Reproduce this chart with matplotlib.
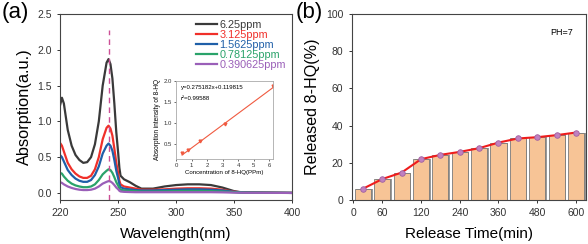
import numpy as np
import matplotlib
matplotlib.use("Agg")
import matplotlib.pyplot as plt

plt.rcParams['font.family'] = ['Liberation Sans', 'DejaVu Sans']

# ---- panel (a): UV-vis spectra ----
wl = [220, 221, 222, 224, 226, 228, 230, 232, 234, 236, 238, 240, 242, 244,
      245, 246, 247, 248, 249, 250, 251, 252, 255, 260, 265, 270, 280, 290,
      300, 310, 320, 330, 340, 345, 350, 355, 360, 380, 400]
a625 = [1.22, 1.33, 1.25, 0.88, 0.66, 0.53, 0.46, 0.42, 0.43, 0.50, 0.68, 1.00,
        1.50, 1.82, 1.87, 1.80, 1.60, 1.25, 0.85, 0.55, 0.35, 0.24, 0.19, 0.15,
        0.10, 0.06, 0.06, 0.09, 0.11, 0.12, 0.12, 0.11, 0.075, 0.05, 0.025,
        0.012, 0.008, 0.004, 0.0]
a3125 = [0.70, 0.66, 0.58, 0.42, 0.33, 0.27, 0.23, 0.21, 0.21, 0.24, 0.33, 0.50,
         0.75, 0.91, 0.94, 0.90, 0.80, 0.62, 0.42, 0.27, 0.17, 0.12, 0.09, 0.075,
         0.06, 0.045, 0.045, 0.05, 0.06, 0.065, 0.065, 0.06, 0.045, 0.03, 0.018,
         0.01, 0.006, 0.003, 0.0]
a15625 = [0.53, 0.50, 0.44, 0.32, 0.25, 0.20, 0.17, 0.155, 0.155, 0.18, 0.25, 0.37,
          0.55, 0.66, 0.69, 0.66, 0.59, 0.46, 0.31, 0.20, 0.12, 0.08, 0.06, 0.05,
          0.04, 0.035, 0.035, 0.04, 0.045, 0.05, 0.05, 0.045, 0.035, 0.025, 0.015,
          0.008, 0.005, 0.002, 0.0]
a078125 = [0.28, 0.27, 0.23, 0.17, 0.13, 0.105, 0.09, 0.08, 0.08, 0.09, 0.12, 0.18,
           0.26, 0.31, 0.33, 0.32, 0.28, 0.22, 0.15, 0.10, 0.065, 0.045, 0.035, 0.03,
           0.025, 0.02, 0.02, 0.022, 0.025, 0.028, 0.028, 0.025, 0.02, 0.015, 0.01,
           0.006, 0.004, 0.002, 0.0]
a0390625 = [0.15, 0.14, 0.12, 0.09, 0.07, 0.055, 0.045, 0.04, 0.04, 0.045, 0.06, 0.09,
            0.13, 0.155, 0.165, 0.16, 0.14, 0.11, 0.075, 0.05, 0.03, 0.02, 0.015, 0.012,
            0.01, 0.01, 0.01, 0.01, 0.01, 0.01, 0.01, 0.01, 0.008, 0.006, 0.004,
            0.003, 0.002, 0.001, 0.0]
labels = ["6.25ppm", "3.125ppm", "1.5625ppm", "0.78125ppm", "0.390625ppm"]
colors = ["#3a3a3a", "#f0302a", "#1f5fa8", "#2aa36a", "#9a5fb8"]
peak_wl = 245

# inset: calibration
conc = [0.390625, 0.78125, 1.5625, 3.125, 6.25]
conc_abs = [0.28, 0.34, 0.55, 0.96, 1.87]
fit_x = [0.390625, 6.25]
fit_y = [0.2273, 1.8397]

# ---- panel (b): release ----
times = [30, 60, 90, 120, 180, 240, 300, 360, 420, 480, 540, 600]
released = [6.1, 11.3, 14.8, 22.0, 24.3, 25.9, 27.9, 30.9, 33.1, 33.8, 34.9, 36.3]
tick_lab = ["0", "60", "120", "240", "360", "480", "600"]

fig = plt.figure(figsize=(5.88, 2.44), dpi=100)

# piecewise x scale (220-250 stretched as in the original)
r = 1.676


def fwd(x):
    x = np.asarray(x, dtype=float)
    return np.where(x < 250, 250 + (x - 250) * r, x)


def inv(y):
    y = np.asarray(y, dtype=float)
    return np.where(y < 250, 250 + (y - 250) / r, y)


ax1 = fig.add_axes([0.102, 0.180, 0.3946, 0.7626])
ax1.set_xscale('function', functions=(fwd, inv))
series = [a625, a3125, a15625, a078125, a0390625]
for s, lab, c in zip(series, labels, colors):
    ax1.plot(wl, s, color=c, lw=1.6, label=lab)
ax1.plot([peak_wl, peak_wl], [-0.1, 2.27], ls=(0, (4, 3)), color="#cc4f96", lw=1.0)
ax1.set_xlim(220, 400)
ax1.set_ylim(-0.1, 2.5)
ax1.set_xticks([220, 250, 300, 350, 400])
ax1.set_xticklabels(["220", "250", "300", "350", "400"])
ax1.set_yticks([0, 0.5, 1.0, 1.5, 2.0, 2.5])
ax1.tick_params(labelsize=7.5, length=2.5, width=0.7, colors="#333333")
ax1.set_xlabel("Wavelength(nm)", fontsize=11, labelpad=6)
ax1.set_ylabel("Absorption(a.u.)", fontsize=11.8, labelpad=4)
for sp in ax1.spines.values():
    sp.set_color("#444444")
    sp.set_linewidth(0.8)
leg = ax1.legend(loc="upper left", bbox_to_anchor=(0.555, 1.01), frameon=False,
                 fontsize=7.8, labelspacing=0.0, handlelength=1.9,
                 handletextpad=0.25, borderpad=0.2)
for t, c in zip(leg.get_texts(), colors):
    t.set_color(c)

ins = fig.add_axes([0.2993, 0.348, 0.1655, 0.321])
ins.plot(fit_x, fit_y, color="#f05a40", lw=0.8)
ins.plot(conc, conc_abs, ls="none", marker="v", ms=2, color="#f05a40")
ins.set_xlim(0, 6.26)
ins.set_ylim(0.13, 2.0)
ins.set_xticks([0, 1, 2, 3, 4, 5, 6])
ins.set_yticks([0.5, 1.0, 1.5, 2.0])
ins.tick_params(labelsize=4.3, length=1.5, width=0.5, pad=1.5, colors="#333333")
ins.set_xlabel("Concentration of 8-HQ(PPm)", fontsize=4.4, labelpad=1.5)
ins.set_ylabel("Absorption intensity of 8-HQ", fontsize=4.7, labelpad=2)
ins.text(0.3, 1.85, "y=0.275182x+0.119815", fontsize=4.3, va="center")
ins.text(0.3, 1.58, "r\u00b2=0.99588", fontsize=4.3, va="center")
for sp in ins.spines.values():
    sp.set_color("#aaaaaa")
    sp.set_linewidth(0.6)

# ---- panel (b) ----
ax2 = fig.add_axes([0.598, 0.180, 0.3986, 0.7626])
pos = np.arange(1, len(times) + 1)
ax2.bar(pos + 0.08, released, width=0.83, color="#9a9a9a", zorder=1)
ax2.bar(pos, released, width=0.83, color="#f7c496", edgecolor="#7a7a7a",
        linewidth=0.6, zorder=2)
ax2.plot(pos, released, color="#ee1c1c", lw=1.5, marker="o", ms=4,
         mfc="#c080c0", mec="#a060a0", mew=0.6, zorder=3)
ax2.set_xlim(0.415, 12.52)
ax2.set_ylim(0, 100)
ax2.set_xticks([0.5, 2, 4, 6, 8, 10, 12])
ax2.set_xticklabels(tick_lab)
ax2.set_yticks([0, 20, 40, 60, 80, 100])
ax2.tick_params(labelsize=7.5, length=2.5, width=0.7, colors="#333333")
ax2.set_xlabel("Release Time(min)", fontsize=11, labelpad=6)
ax2.set_ylabel("Released 8-HQ(%)", fontsize=11.6, labelpad=4)
ax2.text(0.896, 0.903, "PH=7", transform=ax2.transAxes, fontsize=6.5,
         ha="center", va="center")
for sp in ax2.spines.values():
    sp.set_color("#444444")
    sp.set_linewidth(0.8)

fig.text(0.003, 0.99, "(a)", fontsize=16, va="top")
fig.text(0.502, 0.99, "(b)", fontsize=16, va="top")

fig.savefig("out.png", dpi=100, facecolor="white")
